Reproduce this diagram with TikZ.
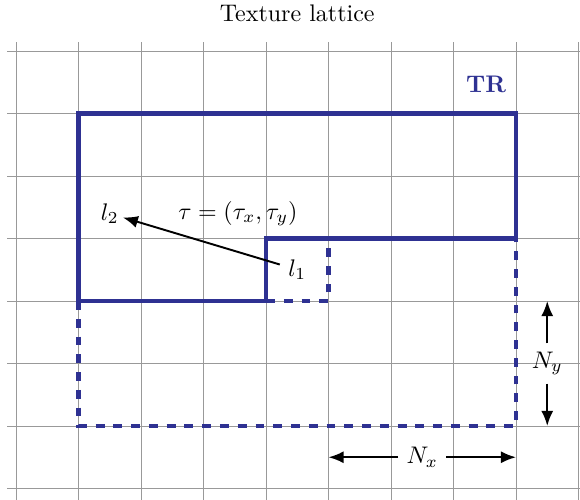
\documentclass[tikz,border=0pt]{standalone}
\usepackage{amsmath}
\usetikzlibrary{arrows.meta}
\definecolor{trblue}{RGB}{46,49,146}
\tikzset{
  lattice/.style  ={gray!80,line width=0.4pt},
  trsolid/.style  ={trblue,line width=2pt},
  trdashed/.style ={trblue,line width=2pt,dash pattern=on 3.7pt off 3.7pt},
  dimarrow/.style ={black,line width=0.8pt,-{Latex[length=6.3pt,width=5pt]}},
  lbl/.style      ={font=\normalsize},
}

\begin{document}
\begin{tikzpicture}[x=0.915cm,y=0.915cm]
  \useasboundingbox (-0.256,0.816) rectangle (9.024,-7.184);
  % texture lattice
  \draw[lattice,step=1] (-0.14,0.14) grid (9.3,-7.4);
  \node[lbl] (title) at (4.5,0.6) {Texture lattice};
  % texture region TR
  \draw[trsolid] (1,-4) -- (1,-1) -- (8,-1) -- (8,-3) -- (4,-3) -- (4,-4) -- cycle;
  \draw[trdashed] (4,-4) -- (5,-4) -- (5,-3);
  \draw[trdashed] (1,-4) -- (1,-6) -- (8,-6) -- (8,-3);
  \node[trblue,font=\bfseries] (tr) at (7.52,-0.54) {TR};
  % shift vector
  \node (l1) at (4.5,-3.5) {$l_1$};
  \node[inner sep=1.5pt] (l2) at (1.5,-2.6) {$l_2$};
  \node (tau) at (3.55,-2.6) {$\tau=(\tau_x,\tau_y)$};
  \draw[dimarrow] (l1) -- (l2);
  % periods
  \coordinate (nxl) at (5,-6.5);
  \coordinate (nxr) at (8,-6.5);
  \node (nx) at (6.5,-6.5) {$N_x$};
  \draw[dimarrow] (nx) -- (nxl);
  \draw[dimarrow] (nx) -- (nxr);
  \coordinate (nyt) at (8.5,-4);
  \coordinate (nyb) at (8.5,-6);
  \node (ny) at (8.5,-5) {$N_y$};
  \draw[dimarrow] (ny) -- ++(0,0.55) -- (nyt);
  \draw[dimarrow] (ny) -- ++(0,-0.55) -- (nyb);
\end{tikzpicture}
\end{document}
